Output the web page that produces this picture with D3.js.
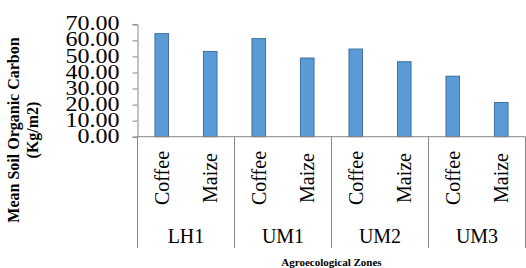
<!DOCTYPE html>
<html lang="en">
<head>
    <meta charset="UTF-8">
    <title>Mean Soil Organic Carbon</title>
    <style>
        html, body { margin: 0; padding: 0; background: #fff; }
    </style>
</head>
<body>
<div id="chart-container"></div>

<script src="https://d3js.org/d3.v7.min.js"></script>
<script>
    // Data
    const zones = ['LH1', 'UM1', 'UM2', 'UM3'];
    const crops = ['Coffee', 'Maize'];
    const coffeeValues = [64.2, 61.1, 54.6, 37.7];
    const maizeValues = [53.1, 49.0, 46.7, 21.3];
    const yTicks = [0, 10, 20, 30, 40, 50, 60, 70];

    const rows = [];
    zones.forEach((z, i) => {
        rows.push({ zone: z, crop: 'Coffee', value: coffeeValues[i] });
        rows.push({ zone: z, crop: 'Maize', value: maizeValues[i] });
    });

    const width = 526;
    const height = 268;
    const plotLeft = 137.5, plotRight = 525.5, plotTop = 24.3, plotBottom = 136.7;
    const serif = "'Liberation Serif', 'Times New Roman', serif";

    const svg = d3.select('#chart-container')
        .append('svg')
        .attr('width', width)
        .attr('height', height);

    const x0 = d3.scaleBand().domain(zones).range([plotLeft, plotRight]);
    const x1 = d3.scaleBand().domain(crops).range([0, x0.bandwidth()]).paddingInner(0.72).paddingOuter(0.36);
    const y = d3.scaleLinear().domain([0, 70]).range([plotBottom, plotTop]);

    // Bars
    svg.selectAll('.bar')
        .data(rows)
        .enter()
        .append('rect')
        .attr('class', 'bar')
        .attr('x', d => x0(d.zone) + x1(d.crop))
        .attr('y', d => y(d.value))
        .attr('width', x1.bandwidth())
        .attr('height', d => y(0) - y(d.value))
        .attr('fill', '#5B9BD5')
        .attr('stroke', '#41719C')
        .attr('stroke-width', 1);

    // Y axis (labels are a bit wide in the original, so stretch them)
    const yAxis = svg.append('g')
        .attr('transform', `translate(${plotLeft},0)`)
        .call(d3.axisLeft(y).tickValues(yTicks).tickFormat(d3.format('.2f')).tickSizeOuter(0).tickSize(5));
    yAxis.select('.domain').attr('stroke', '#868686');
    yAxis.selectAll('.tick line').attr('stroke', '#868686');
    yAxis.selectAll('.tick text')
        .attr('x', 0)
        .attr('transform', 'translate(-18,0) scale(1.2,1)')
        .style('font-family', serif)
        .style('font-size', '20px')
        .attr('fill', '#000')
        .attr('dy', '0.28em');

    // X axis baseline
    svg.append('line')
        .attr('x1', plotLeft).attr('x2', plotRight)
        .attr('y1', y(0)).attr('y2', y(0))
        .attr('stroke', '#868686');

    // Group separators
    const seps = zones.map(z => x0(z)).concat([x0(zones[zones.length - 1]) + x0.bandwidth()]);
    svg.selectAll('.sep')
        .data(seps)
        .enter()
        .append('line')
        .attr('class', 'sep')
        .attr('x1', d => d).attr('x2', d => d)
        .attr('y1', y(0)).attr('y2', 248)
        .attr('stroke', '#868686');

    // Crop labels (rotated)
    svg.selectAll('.crop')
        .data(rows)
        .enter()
        .append('text')
        .attr('class', 'crop')
        .attr('transform', d => `translate(${x0(d.zone) + x1(d.crop) + x1.bandwidth() / 2 + 7},178) rotate(-90)`)
        .attr('text-anchor', 'middle')
        .style('font-family', serif)
        .style('font-size', '20px')
        .text(d => d.crop);

    // Zone labels
    svg.selectAll('.zone')
        .data(zones)
        .enter()
        .append('text')
        .attr('class', 'zone')
        .attr('x', d => x0(d) + x0.bandwidth() / 2)
        .attr('y', 243)
        .attr('text-anchor', 'middle')
        .style('font-family', serif)
        .style('font-size', '20px')
        .text(d => d);

    // Axis titles
    svg.append('text')
        .attr('x', (plotLeft + plotRight) / 2)
        .attr('y', 266)
        .attr('text-anchor', 'middle')
        .style('font-family', serif)
        .style('font-size', '11px')
        .style('font-weight', 'bold')
        .text('Agroecological Zones');

    const yTitle = svg.append('text')
        .attr('transform', 'translate(19,130) rotate(-90)')
        .attr('text-anchor', 'middle')
        .style('font-family', serif)
        .style('font-size', '16px')
        .style('font-weight', 'bold');
    yTitle.append('tspan').attr('x', 0).attr('dy', 0).text('Mean Soil Organic Carbon');
    yTitle.append('tspan').attr('x', 0).attr('dy', 19).text('(Kg/m2)');
</script>
</body>
</html>
